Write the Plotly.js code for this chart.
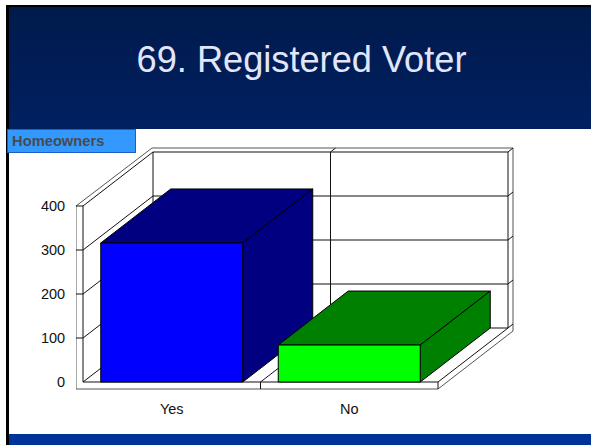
<!DOCTYPE html>
<html><head><meta charset="utf-8">
<script src="https://cdn.plot.ly/plotly-3.0.1.min.js"></script>
<style>
html,body{margin:0;padding:0;background:#fff;overflow:hidden}
#bg{position:absolute;left:0;top:0;width:591px;height:445px;background:#fff}
#frameTop{position:absolute;left:6px;top:5px;width:585px;height:124px;box-sizing:border-box;border-top:2px solid #000;border-left:3px solid #000;background:linear-gradient(#001a4c,#002060)}
#frameLeft{position:absolute;left:6px;top:129px;width:3px;height:316px;background:#000}
#frameBot{position:absolute;left:6px;top:434px;width:585px;height:11px;box-sizing:border-box;border-left:3px solid #000;background:#003399}
#plot{position:absolute;left:0;top:0;width:591px;height:445px}
</style></head><body>
<div id="bg"></div><div id="frameTop"></div><div id="frameLeft"></div><div id="frameBot"></div>
<div id="plot"></div>
<script>
const categories = ["Yes", "No"];
const values = [316, 84];
const faceColors = ["#0000ff", "#00ff00"];
const shadeColors = ["#000080", "#008000"];
const tickValues = [0, 100, 200, 300, 400];
const titleText = "69. Registered Voter";
const boxText = "Homeowners";

// oblique projection: depth 1 is the back wall
const DX = 70 / 177.5, DY = 54 / 0.44;
const BAR_HALF = 0.4;
const TOP = tickValues[tickValues.length - 1], N = categories.length;
const WALL_X = 7 / 177.5, FLOOR_Y = 7 / 0.44, RIM_X = 5 / 177.5, RIM_Y = 4 / 0.44;

function segs(list) {
  const x = [], y = [];
  list.forEach(s => { s.forEach(p => { x.push(p[0]); y.push(p[1]); }); x.push(null); y.push(null); });
  return {x, y};
}
const P = (x, v, d) => [x + d * DX, v + d * DY];

// chart box
const inner = [];
tickValues.forEach(v => {
  const back = P(N, v, 1);
  inner.push([P(0, v, 0), P(0, v, 1), back]);
  inner.push([back, [back[0] + RIM_X, back[1] + RIM_Y]]);
  if (v > 0) inner.push([[-WALL_X, v], [0, v]]);
});
inner.push([P(0, 0, 0), P(N, 0, 0), P(N, 0, 1), P(N, TOP, 1)]);
inner.push([P(0, 0, 0), P(0, TOP, 0)]);
inner.push([P(0, 0, 1), P(0, TOP, 1)]);
for (let i = 1; i < N; i++) {
  const t = P(i, TOP, 1);
  inner.push([[i, -FLOOR_Y], P(i, 0, 0), P(i, 0, 1), t, [t[0] + RIM_X, t[1] + RIM_Y]]);
}
inner.push([P(N, 0, 0), [N, -FLOOR_Y]]);
const bl = P(0, TOP, 1), tr = P(N, TOP, 1), br = P(N, 0, 1);
const outer = [[
  [-WALL_X, -FLOOR_Y], [-WALL_X, TOP], [bl[0] - RIM_X * 0.2, bl[1] + RIM_Y],
  [tr[0] + RIM_X, tr[1] + RIM_Y], [br[0] + RIM_X, br[1] - 3 / 0.44], [N, -FLOOR_Y], [-WALL_X, -FLOOR_Y]
]];
const line = (s, color, name) => Object.assign(segs(s), {
  type: "scatter", mode: "lines", name, hoverinfo: "skip",
  line: {color, width: 1}, connectgaps: false
});
const poly = (pts, fill, name) => ({
  type: "scatter", mode: "lines", name, hoverinfo: "skip",
  x: pts.map(p => p[0]).concat(pts[0][0]), y: pts.map(p => p[1]).concat(pts[0][1]),
  fill: "toself", fillcolor: fill, line: {color: "#000", width: 1}
});

const traces = [line(outer, "#555555", "rim"), line(inner, "#111111", "box")];
categories.forEach((c, i) => {
  const a = i + 0.5 - BAR_HALF, b = i + 0.5 + BAR_HALF, v = values[i];
  traces.push(poly([P(a, v, 0), P(a, v, 1), P(b, v, 1), P(b, v, 0)], shadeColors[i], c + " top"));
  traces.push(poly([P(b, 0, 0), P(b, 0, 1), P(b, v, 1), P(b, v, 0)], shadeColors[i], c + " side"));
  traces.push(poly([P(a, 0, 0), P(b, 0, 0), P(b, v, 0), P(a, v, 0)], faceColors[i], c));
});

const font = "Liberation Sans, Arial, sans-serif";
const layout = {
  width: 591, height: 445, showlegend: false,
  margin: {l: 76, r: 76, t: 146, b: 55, pad: 0},
  paper_bgcolor: "rgba(0,0,0,0)", plot_bgcolor: "rgba(0,0,0,0)",
  title: {text: titleText, font: {family: font, size: 36.2, color: "#e2e6fa"},
          x: 301.5 / 591, xanchor: "center", y: 1 - 59 / 445, yanchor: "middle"},
  xaxis: {range: [-7 / 177.5, 432 / 177.5], tickmode: "array",
          tickvals: categories.map((c, i) => i + 0.5), ticktext: categories,
          showgrid: false, zeroline: false, showline: false,
          ticks: "outside", ticklen: 6, tickcolor: "rgba(0,0,0,0)",
          tickfont: {family: font, size: 14.5, color: "#111"}},
  yaxis: {range: [-8 / 0.44, 236 / 0.44], tickmode: "array",
          tickvals: tickValues, ticktext: tickValues.map(String),
          showgrid: false, zeroline: false, showline: false,
          ticks: "outside", ticklen: 7, tickcolor: "rgba(0,0,0,0)",
          tickfont: {family: font, size: 14.5, color: "#111"}},
  annotations: [{
    text: "<b>\u00a0" + boxText + "</b>", xref: "paper", yref: "paper",
    x: (6.5 - 76) / 439, y: (390 - 129) / 244, xanchor: "left", yanchor: "top",
    width: 127, height: 22, align: "left", showarrow: false,
    bgcolor: "#3399ff", bordercolor: "#1a5fc8", borderwidth: 1, borderpad: 0,
    font: {family: font, size: 14.7, color: "#4a4a4a"}
  }]
};
Plotly.newPlot("plot", traces, layout, {staticPlot: true, displayModeBar: false});
</script></body></html>
